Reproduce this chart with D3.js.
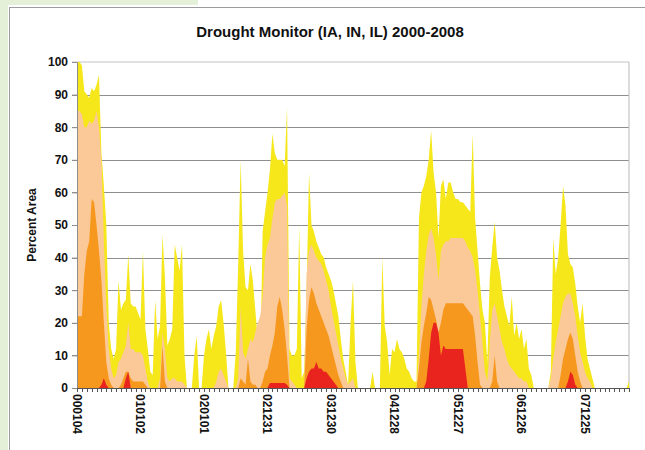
<!DOCTYPE html>
<html><head><meta charset="utf-8">
<script src="https://cdn.jsdelivr.net/npm/d3@7"></script>
<style>
html,body{margin:0;padding:0;background:#fff;}
svg{display:block;}
text{font-family:"Liberation Sans",Arial,sans-serif;fill:#111;}
</style></head><body>
<svg id="chart" width="645" height="450"></svg>
<script>
// ---- data (percent area, every 2 weeks from 2000-01-04) ----
const startDate = "2000-01-04";
const stepDays = 14;
const lastWeek = 452;
const tickLabels = ["000104","010102","020101","021231","031230","041228","051227","061226","071225"];
const yTicks = [0,10,20,30,40,50,60,70,80,90,100];
const seriesNames = ["D0-D4","D1-D4","D2-D4","D3-D4"];

const d0 = [
100,100,99,91,90,89,92,91,93,96,
72,62,50,20,12,9,12,33,24,26,
27,41,26,25,25,23,21,42,18,12,
5,4,27,15,19,47,34,13,15,18,
44,40,36,44,10,0,0,0,10,16,
0,0,10,15,18,12,16,19,25,27,
20,11,0,0,0,11,38,70,42,31,
30,38,33,24,15,6,48,54,60,67,
78,72,70,70,70,68,86,12,10,10,
12,50,3,5,30,66,50,48,45,43,
41,40,37,35,33,30,26,22,15,9,
5,1,20,33,8,0,0,0,0,0,
0,5,0,0,0,40,19,14,4,12,
11,15,12,11,9,6,5,3,2,2,
52,60,62,65,70,79,66,60,46,62,
64,58,63,63,60,58,58,57,57,56,
55,54,78,52,42,32,24,20,8,34,
43,51,40,36,30,25,22,19,28,16,
20,15,18,12,15,6,4,0,0,0,
0,0,0,0,5,46,35,40,50,62,
56,41,38,37,32,25,20,26,16,9,
6,3,0,0,0,0,0,0,0,0,
0,0,0,0,0,0,2];

const d1 = [
85,85,84,80,80,82,81,82,85,80,
70,45,25,12,6,3,4,8,9,11,
13,20,12,12,11,11,11,10,6,2,
0,0,0,0,3,17,12,3,2,3,
3,2,2,2,1,0,0,0,0,0,
0,0,0,0,0,0,0,2,5,6,
4,2,0,0,0,0,3,25,11,9,
12,15,14,17,20,22,28,40,44,46,
52,57,58,58,59,60,56,3,2,1,
0,0,0,0,35,42,44,42,40,39,
38,36,33,30,25,21,17,13,9,6,
3,1,2,3,0,0,0,0,0,0,
0,0,0,0,0,0,0,0,0,0,
0,0,0,0,0,0,0,0,0,0,
10,25,35,42,47,49,46,41,33,42,
44,45,45,46,46,46,46,46,46,45,
43,42,40,36,30,22,14,5,2,14,
24,26,22,18,14,12,9,7,6,5,
4,3,3,2,2,0,0,0,0,0,
0,0,0,0,3,9,14,18,22,26,
28,29,29,26,22,16,11,8,5,3,
2,0,0,0,0,0,0,0,0,0,
0,0,0,0,0,0,0];

const d2 = [
22,22,22,35,42,45,58,57,50,42,
33,20,8,3,1,0,0,0,1,3,
5,5,3,2,2,2,2,2,1,0,
0,0,0,0,0,13,2,0,0,0,
0,0,0,0,0,0,0,0,0,0,
0,0,0,0,0,0,0,0,0,0,
0,0,0,0,0,0,0,3,2,1,
9,2,1,1,0,0,2,5,6,10,
13,17,25,28,24,18,10,0,0,0,
0,0,0,0,18,27,31,29,26,24,
22,20,18,16,13,10,7,4,2,0,
0,0,0,0,0,0,0,0,0,0,
0,0,0,0,0,0,0,0,0,0,
0,0,0,0,0,0,0,0,0,0,
6,14,19,23,28,27,24,21,17,20,
24,26,26,26,26,26,26,26,26,25,
24,23,22,16,8,1,0,0,0,0,
2,10,2,0,0,0,0,0,0,0,
0,0,0,0,0,0,0,0,0,0,
0,0,0,0,0,0,0,0,4,9,
12,15,17,15,10,5,2,0,0,0,
0,0,0,0,0,0,0,0,0,0,
0,0,0,0,0,0,0];

const d3v = [
0,0,0,0,0,0,0,0,0,0,
1,3,1,0,0,0,0,0,0,0,
3,5,0,0,0,0,0,0,0,0,
0,0,0,0,0,0,0,0,0,0,
0,0,0,0,0,0,0,0,0,0,
0,0,0,0,0,0,0,0,0,0,
0,0,0,0,0,0,0,0,0,0,
0,0,0,0,0,0,0,0,0,1.5,
1.5,1.5,1.5,1.5,1.5,1.5,1,0,0,0,
0,0,0,0,3,5,6,6,8,6,
6,5,5,4,3,2,1,0,0,0,
0,0,0,0,0,0,0,0,0,0,
0,0,0,0,0,0,0,0,0,0,
0,0,0,0,0,0,0,0,0,0,
0,0,0,2,9,17,20,20,17,10,
13,12,12,12,12,12,12,12,12,6,
0,0,0,0,0,0,0,0,0,0,
0,0,0,0,0,0,0,0,0,0,
0,0,0,0,0,0,0,0,0,0,
0,0,0,0,0,0,0,0,0,0,
0,2,5,4,1,0,0,0,0,0,
0,0,0,0,0,0,0,0,0,0,
0,0,0,0,0,0,0];

const seriesValues = [d0, d1, d2, d3v];
const seriesColors = ["#F5E71A", "#FBC997", "#F7981E", "#E9241F"];

// ---- drawing ----
const svg = d3.select("#chart");
const W = 645, H = 450;
const plot = {left: 77, right: 629, top: 62, bottom: 388};

// page decorations
svg.append("rect").attr("x",0).attr("y",0).attr("width",W).attr("height",H).attr("fill","#fff");
svg.append("rect").attr("x",0).attr("y",0).attr("width",8).attr("height",H).attr("fill","#E4F1D8");
svg.append("rect").attr("x",0).attr("y",0).attr("width",198).attr("height",5).attr("fill","#E4F1D8");
svg.append("line").attr("x1",9.5).attr("x2",9.5).attr("y1",7).attr("y2",H).attr("stroke","#9c9c9c");
svg.append("line").attr("x1",9).attr("x2",W).attr("y1",7.5).attr("y2",7.5).attr("stroke","#9c9c9c");

const parse = d3.utcParse("%Y-%m-%d");
const t0 = parse(startDate);
const dates = d0.map((_, i) => d3.utcDay.offset(t0, stepDays * i));
const tEnd = d3.utcDay.offset(t0, lastWeek * 7);

const x = d3.scaleUtc().domain([t0, tEnd]).range([plot.left, plot.right]);
const y = d3.scaleLinear().domain([0, 100]).range([plot.bottom, plot.top]);

// gridlines
svg.append("g").selectAll("line").data(yTicks.filter(v => v > 0 && v < 100)).join("line")
  .attr("x1", plot.left - 5).attr("x2", plot.right)
  .attr("y1", d => Math.round(y(d)) + 0.5).attr("y2", d => Math.round(y(d)) + 0.5)
  .attr("stroke", "#8e8e8e").attr("stroke-width", 1.2);
// top + right border
svg.append("line").attr("x1", plot.left - 5).attr("x2", plot.right).attr("y1", y(100)).attr("y2", y(100))
  .attr("stroke", "#c4c4c4").attr("stroke-width", 1.2);
svg.append("line").attr("x1", plot.right).attr("x2", plot.right).attr("y1", y(100)).attr("y2", y(0))
  .attr("stroke", "#c4c4c4").attr("stroke-width", 1.2);

// areas (overlapping, cumulative categories)
const area = d3.area().x((d, i) => x(dates[i])).y0(y(0)).y1(d => y(d)).curve(d3.curveLinear);
svg.append("g").selectAll("path").data(seriesValues).join("path")
  .attr("d", d => area(d))
  .attr("fill", (d, i) => seriesColors[i]);

// y axis
const yAxis = d3.axisLeft(y).tickValues(yTicks).tickSize(5).tickPadding(4).tickFormat(d3.format("d"));
const gy = svg.append("g").attr("transform", `translate(${plot.left},0)`).call(yAxis);
gy.select(".domain").attr("stroke", "#8e8e8e");
gy.selectAll(".tick line").attr("stroke", "#8e8e8e");
gy.selectAll("text").attr("font-size", 12).attr("font-weight", "bold")
  .attr("font-family", "'Liberation Sans', Arial, sans-serif").attr("fill", "#111");

// x axis
const minorTicks = d3.range(0, lastWeek + 1, 4).map(w => d3.utcDay.offset(t0, w * 7));
const gx = svg.append("g").attr("transform", `translate(0,${plot.bottom})`);
gx.append("line").attr("x1", plot.left).attr("x2", plot.right).attr("y1", 0.5).attr("y2", 0.5).attr("stroke", "#555");
gx.selectAll("line.mt").data(minorTicks).join("line").attr("class","mt")
  .attr("x1", d => Math.round(x(d)) + 0.5).attr("x2", d => Math.round(x(d)) + 0.5)
  .attr("y1", 0).attr("y2", 4).attr("stroke", "#555");
const parseTick = d3.utcParse("%y%m%d");
gx.selectAll("text").data(tickLabels).join("text")
  .attr("transform", d => `translate(${x(parseTick(d))},6) rotate(90)`)
  .attr("dy", "0.35em").attr("text-anchor", "start")
  .attr("font-size", 12).attr("font-weight", "bold")
  .text(d => d);

// titles
svg.append("text").attr("x", 330).attr("y", 37).attr("text-anchor", "middle")
  .attr("font-size", 15).attr("font-weight", "bold").text("Drought Monitor (IA, IN, IL) 2000-2008");
svg.append("text").attr("transform", `translate(36,${(plot.top + plot.bottom) / 2}) rotate(-90)`)
  .attr("text-anchor", "middle").attr("font-size", 12).attr("font-weight", "bold").text("Percent Area");
</script>
</body></html>
